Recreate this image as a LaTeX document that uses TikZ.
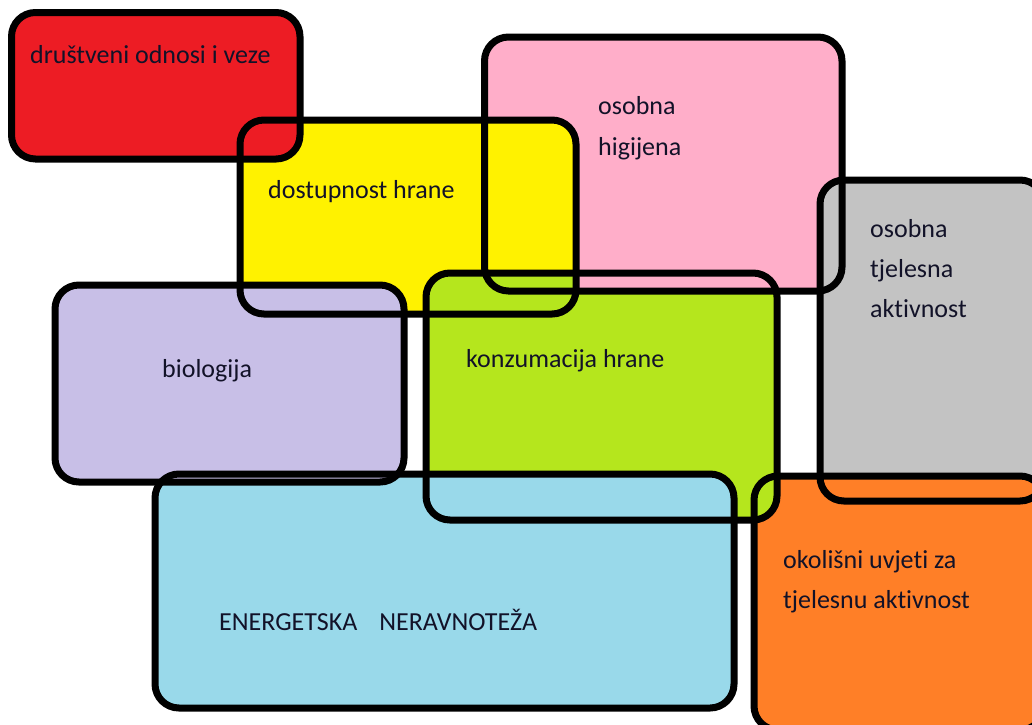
\documentclass[tikz,border=0pt]{standalone}
\usepackage{fontspec}
\setmainfont{Carlito}[Ligatures=NoCommon]
\definecolor{cred}{HTML}{ED1C24}
\definecolor{cyellow}{HTML}{FFF200}
\definecolor{cpink}{HTML}{FFAEC9}
\definecolor{cgray}{HTML}{C3C3C3}
\definecolor{clav}{HTML}{C8BFE7}
\definecolor{cgreen}{HTML}{B5E61D}
\definecolor{cblue}{HTML}{99D9EA}
\definecolor{corange}{HTML}{FF7F27}
\definecolor{ctext}{RGB}{18,18,40}
\tikzset{
  boxfill/.style={rounded corners=24pt},
  boxline/.style={draw=black, line width=7pt, rounded corners=24pt},
  lbl/.style={anchor=base west, inner sep=0pt, text=ctext, font=\fontsize{26}{40}\selectfont}
}
\begin{document}
\begin{tikzpicture}[x=1pt,y=-1pt]
\clip (0,0) rectangle (1032,724);
\fill[white] (0,0) rectangle (1032,724);
% fills, bottom to top
\fill[cpink,boxfill]   (484.5,37) rectangle (842,291);
\fill[cgray,boxfill]   (820,180) rectangle (1044,501);
\fill[corange,boxfill] (754,476) rectangle (1044,730);
\fill[cyellow,boxfill] (240,120) rectangle (576,314);
\fill[cred,boxfill]    (11.5,12.5) rectangle (300,159);
\fill[cgreen,boxfill]  (426,273) rectangle (777,520);
\fill[cblue,boxfill]   (155,474) rectangle (734,708);
\fill[clav,boxfill]    (55,285) rectangle (404,482);
% pink over green to the right of the yellow box
\begin{scope}
  \clip[boxfill] (484.5,37) rectangle (842,291);
  \fill[cpink] (579,260) rectangle (817,295);
\end{scope}
% borders
\draw[boxline] (484.5,37) rectangle (842,291);
\draw[boxline] (820,180) rectangle (1044,501);
\draw[boxline] (754,476) rectangle (1044,730);
\draw[boxline] (240,120) rectangle (576,314);
\draw[boxline] (11.5,12.5) rectangle (300,159);
\draw[boxline] (426,273) rectangle (777,520);
\draw[boxline] (155,474) rectangle (734,708);
\draw[boxline] (55,285) rectangle (404,482);
% labels
\node[lbl] (t1) at (30,63) {društveni odnosi i veze};
\node[lbl] (t2) at (268,198) {dostupnost hrane};
\node[lbl] (t3a) at (598,114) {osobna};
\node[lbl] (t3b) at (598,155) {higijena};
\node[lbl] (t4a) at (870,237) {osobna};
\node[lbl] (t4b) at (870,277) {tjelesna};
\node[lbl] (t4c) at (870,317) {aktivnost};
\node[lbl] (t5) at (162,377) {biologija};
\node[lbl] (t6) at (466,367) {konzumacija hrane};
\node[lbl] (t7a) at (783,568) {okolišni uvjeti za};
\node[lbl] (t7b) at (783,608) {tjelesnu aktivnost};
\node[lbl] (t8) at (219,630) {ENERGETSKA\hspace{22pt}NERAVNOTEŽA};
\end{tikzpicture}
\end{document}
